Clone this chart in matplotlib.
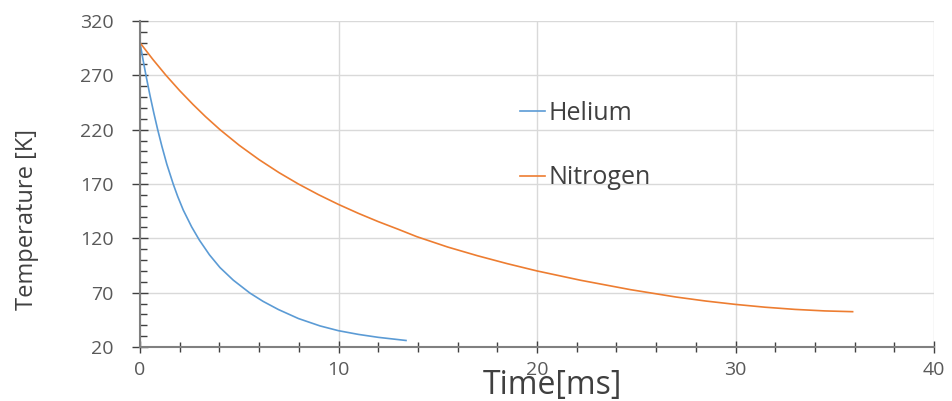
import matplotlib
matplotlib.use("Agg")
import matplotlib.pyplot as plt
from matplotlib.ticker import MultipleLocator

plt.rcParams['font.family'] = ['Open Sans', 'DejaVu Sans']

# Helium cool-down (time in ms, temperature in K)
helium_t = [0, 0.15, 0.3, 0.5, 0.7, 0.89, 1.1, 1.35, 1.68, 1.9, 2.18, 2.6, 2.99, 3.5,
            4.03, 4.7, 5.54, 6.2, 6.97, 7.98, 9.07, 10, 11, 12, 13.4]
helium_T = [300, 284.6, 270, 251.8, 235, 220.1, 204.9, 188.3, 169.6, 158.5, 146, 130.6, 118.4, 104.8,
            93.1, 81.5, 69.6, 62, 54.5, 46.2, 39.4, 35, 31.6, 28.9, 26]

# Nitrogen cool-down
nitrogen_t = [0, 0.65, 1.31, 2.0, 2.67, 3.3, 4.03, 5, 6, 7, 7.98, 9, 10, 11, 12, 13, 13.95,
              15.5, 17, 18.5, 20, 22.2, 24.7, 27, 28.5, 30, 31.5, 33, 34.5, 35.9]
nitrogen_T = [300, 284.6, 270, 255.9, 243.2, 232, 220, 205.6, 192.4, 180.5, 170, 160.1, 151.2,
              143, 135.4, 128.4, 121.5, 112, 104, 96.7, 90, 81.4, 72.8, 66, 62.3, 59.2,
              56.6, 54.6, 53.2, 52.5]

y_ticks = [20, 70, 120, 170, 220, 270, 320]

gray = '#595959'
axis_gray = '#808080'

fig = plt.figure(figsize=(9.52, 4.01), dpi=100)
ax = fig.add_axes([140 / 952, 54 / 401, 794 / 952, 326 / 401])

ax.plot(helium_t, helium_T, color='#5b9bd5', lw=1.2, label='Helium')
ax.plot(nitrogen_t, nitrogen_T, color='#ed7d31', lw=1.2, label='Nitrogen')

ax.set_xlim(0, 40)
ax.set_ylim(20, 320)
ax.xaxis.set_major_locator(MultipleLocator(10))
ax.xaxis.set_minor_locator(MultipleLocator(2))
ax.set_yticks(y_ticks)
ax.yaxis.set_minor_locator(MultipleLocator(10))

ax.grid(True, which='major', color='#d9d9d9', lw=1)
ax.set_axisbelow(True)

for s in ['top', 'right']:
    ax.spines[s].set_visible(False)
for s in ['left', 'bottom']:
    ax.spines[s].set_color(axis_gray)
    ax.spines[s].set_linewidth(1.5)

ax.tick_params(axis='x', which='major', direction='inout', length=8, width=1,
               color='#404040', labelsize=14, labelcolor=gray, pad=6)
ax.tick_params(axis='x', which='minor', direction='inout', length=7, width=1, color='#404040')
ax.tick_params(axis='y', which='major', direction='inout', length=12, width=1,
               color='#404040', labelsize=14, labelcolor=gray, pad=13)
ax.tick_params(axis='y', which='minor', direction='in', length=5, width=1, color='#404040')

ax.set_xlabel('Time[ms]', fontsize=23, color='#404040', va='center', ha='center')
ax.xaxis.set_label_coords(0.52, -0.117)
ax.set_ylabel('Temperature [K]', fontsize=17, color='#404040', va='center', ha='center')
ax.yaxis.set_label_coords(-0.142, 0.39)

ax.legend(loc='upper left', bbox_to_anchor=(507 / 952, 1 - 88 / 401),
          bbox_transform=fig.transFigure, frameon=False, fontsize=18,
          handlelength=1.0, handletextpad=0.15, labelspacing=1.6, borderpad=0,
          labelcolor='#404040')

fig.savefig('out.png', dpi=100)
